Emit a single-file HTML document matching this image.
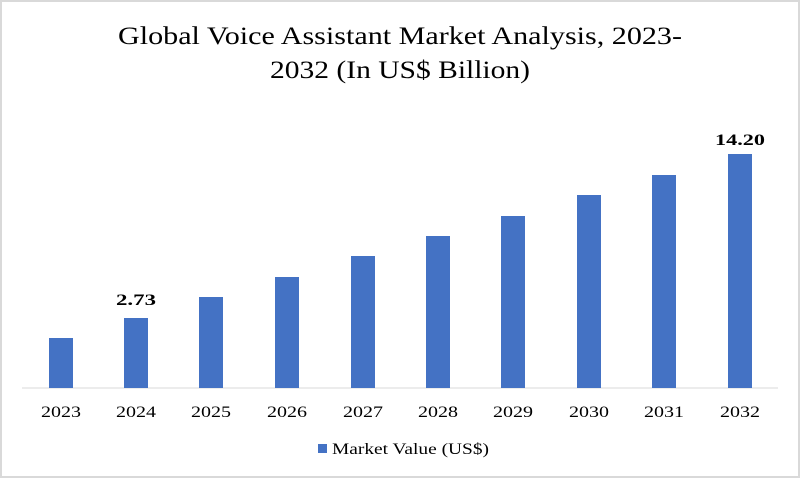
<!DOCTYPE html>
<html><head><style>
body{margin:0;background:#fff}
</style></head><body>
<svg width="800" height="478" xmlns="http://www.w3.org/2000/svg" font-family="'Liberation Serif',serif">
<rect x="1" y="1" width="798" height="476" fill="#fff" stroke="#d9d9d9" stroke-width="2"/>
<text x="400" y="44" font-size="25" text-anchor="middle" fill="#000" textLength="564" lengthAdjust="spacingAndGlyphs">Global Voice Assistant Market Analysis, 2023-</text>
<text x="400" y="78" font-size="25" text-anchor="middle" fill="#000" textLength="260" lengthAdjust="spacingAndGlyphs">2032 (In US$ Billion)</text>
<line x1="22" y1="388" x2="778" y2="388" stroke="#d9d9d9" stroke-width="1"/>
<g fill="#4472c4">
<rect x="49" y="338" width="24" height="50"/>
<rect x="124" y="318" width="24" height="70"/>
<rect x="199" y="297" width="24" height="91"/>
<rect x="275" y="277" width="24" height="111"/>
<rect x="351" y="256" width="24" height="132"/>
<rect x="426" y="236" width="24" height="152"/>
<rect x="501" y="216" width="24" height="172"/>
<rect x="577" y="195" width="24" height="193"/>
<rect x="652" y="175" width="24" height="213"/>
<rect x="728" y="154" width="24" height="234"/>
</g>
<g font-size="16" text-anchor="middle" font-weight="bold">
<text x="136" y="305" textLength="40" lengthAdjust="spacingAndGlyphs">2.73</text>
<text x="740" y="145" textLength="50" lengthAdjust="spacingAndGlyphs">14.20</text>
</g>
<g font-size="16" text-anchor="middle" fill="#000" lengthAdjust="spacingAndGlyphs">
<text x="61" y="417" textLength="40" lengthAdjust="spacingAndGlyphs">2023</text><text x="136" y="417" textLength="40" lengthAdjust="spacingAndGlyphs">2024</text><text x="211" y="417" textLength="40" lengthAdjust="spacingAndGlyphs">2025</text>
<text x="287" y="417" textLength="40" lengthAdjust="spacingAndGlyphs">2026</text><text x="363" y="417" textLength="40" lengthAdjust="spacingAndGlyphs">2027</text><text x="438" y="417" textLength="40" lengthAdjust="spacingAndGlyphs">2028</text>
<text x="513" y="417" textLength="40" lengthAdjust="spacingAndGlyphs">2029</text><text x="589" y="417" textLength="40" lengthAdjust="spacingAndGlyphs">2030</text><text x="664" y="417" textLength="40" lengthAdjust="spacingAndGlyphs">2031</text>
<text x="740" y="417" textLength="40" lengthAdjust="spacingAndGlyphs">2032</text>
</g>
<rect x="318" y="444" width="9" height="9" fill="#4472c4"/>
<text x="332" y="454" font-size="16" fill="#000" textLength="157" lengthAdjust="spacingAndGlyphs">Market Value (US$)</text>
</svg>
</body></html>
